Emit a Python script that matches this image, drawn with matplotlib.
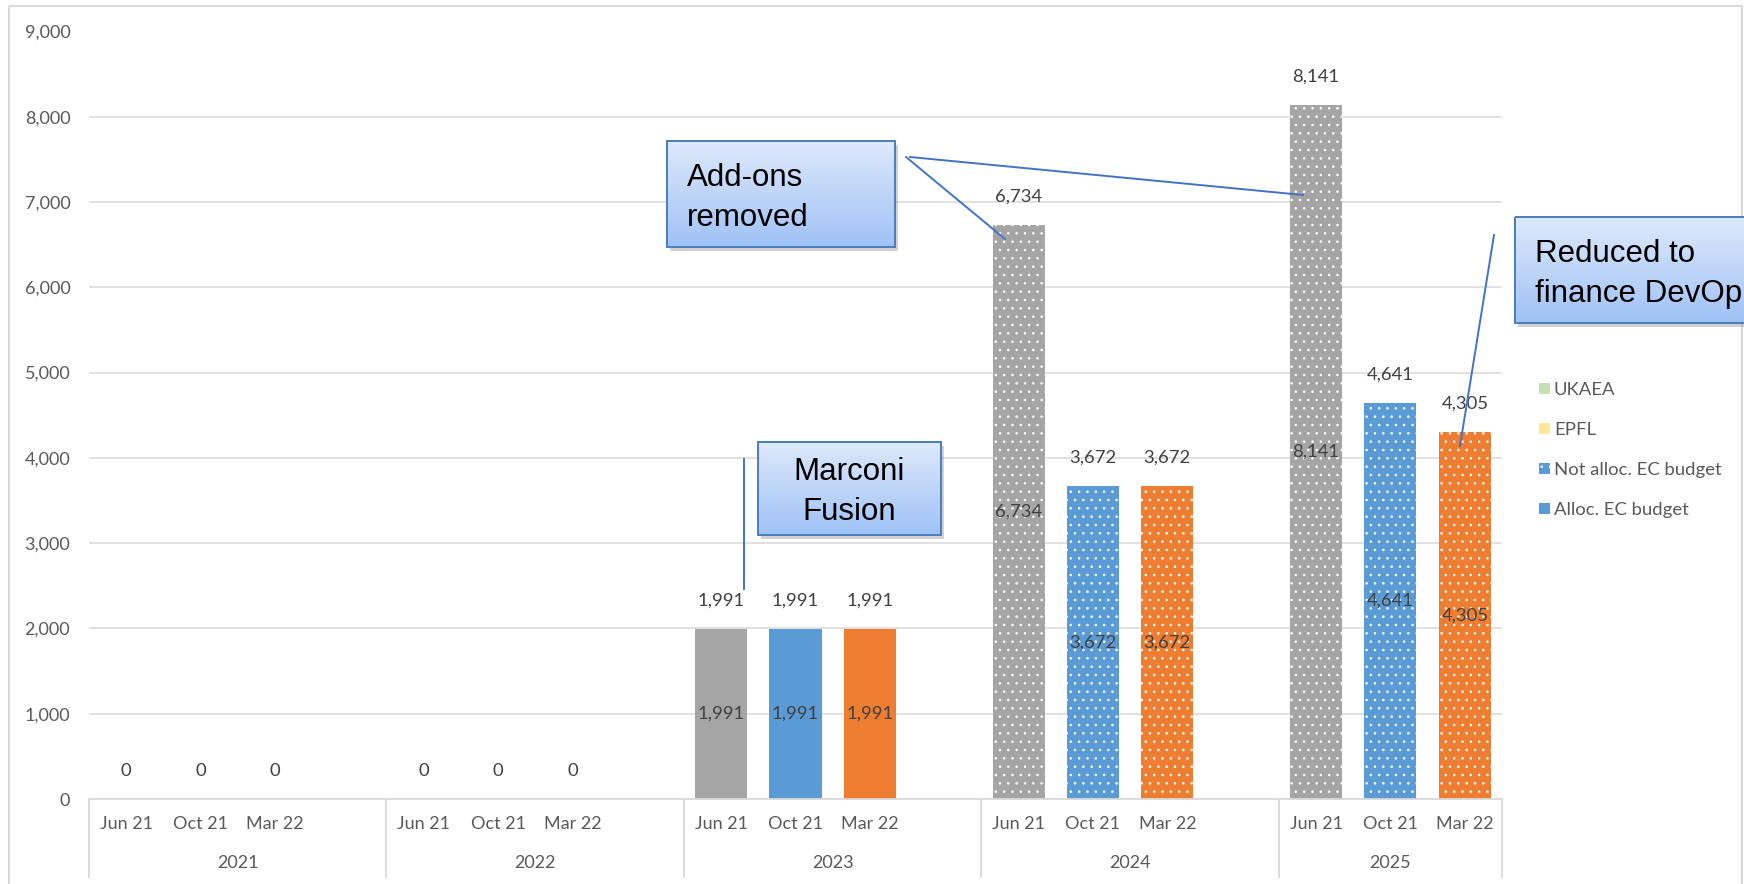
import numpy as np
import matplotlib.pyplot as plt
import matplotlib.transforms as mtransforms
from matplotlib.patches import Patch, Rectangle
from matplotlib.lines import Line2D

# data
years = ['2021', '2022', '2023', '2024', '2025']
months = ['Jun 21', 'Oct 21', 'Mar 22']
alloc_ec = [0, 0, 0, 0, 0, 0, 1991, 1991, 1991, 0, 0, 0, 0, 0, 0]
not_alloc_ec = [0, 0, 0, 0, 0, 0, 0, 0, 0, 6734, 3672, 3672, 8141, 4641, 4305]
epfl = [0] * 15
ukaea = [0] * 15

month_colors = ['#A5A5A5', '#5B9BD5', '#ED7D31']
txt_col = '#595959'
lbl_col = '#404040'
grid_col = '#D9D9D9'

plt.rcParams['font.family'] = ['Lato', 'DejaVu Sans']
plt.rcParams['hatch.color'] = 'white'
plt.rcParams['hatch.linewidth'] = 0.6

W, H = 1744, 884
fig = plt.figure(figsize=(W / 100, H / 100), dpi=100)
ax = fig.add_axes([89 / W, 1 - 799 / H, (1502 - 89) / W, (799 - 31.5) / H])

# 4 slots per year (3 months + blank), last year has no blank slot
pos = np.array([i * 4 + j for i in range(len(years)) for j in range(len(months))])
colors = [month_colors[k % 3] for k in range(len(pos))]
tick_labels = [months[k % 3] for k in range(len(pos))]

a = np.array(alloc_ec)
n = np.array(not_alloc_ec)
e = np.array(epfl)
u = np.array(ukaea)
bw = 0.7
ax.bar(pos, a, width=bw, color=colors, zorder=2)
ax.bar(pos, n, bottom=a, width=bw, color=colors, hatch='..', zorder=2)
ax.bar(pos, e, bottom=a + n, width=bw, color='#FFE699', zorder=2)
ax.bar(pos, u, bottom=a + n + e, width=bw, color='#C5E0B4', zorder=2)

fs = 13.3
# labels inside segments
for x, av, nv in zip(pos, a, n):
    if av > 0:
        ax.text(x, av / 2, f'{av:,}', ha='center', va='center', fontsize=fs, color=lbl_col, zorder=3)
    if nv > 0:
        ax.text(x, av + nv / 2, f'{nv:,}', ha='center', va='center', fontsize=fs, color=lbl_col, zorder=3)

# totals above bars
tot = a + n + e + u
for x, t in zip(pos, tot):
    ax.annotate(f'{t:,}', (x, t), xytext=(0, 20.5), textcoords='offset points',
                ha='center', va='center', fontsize=fs, color=lbl_col)

ax.set_xlim(-0.5, 18.5)
ax.set_ylim(0, 9000)
ax.set_yticks(np.arange(0, 9001, 1000))
ax.yaxis.set_major_formatter(plt.FuncFormatter(lambda v, p: f'{v:,.0f}'))
ax.set_xticks(pos, tick_labels)
ax.tick_params(axis='both', length=0, labelsize=13, labelcolor=txt_col)
ax.tick_params(axis='y', pad=13.5)
ax.tick_params(axis='x', pad=12)
ax.grid(axis='y', color=grid_col, lw=1.1, zorder=0)
ax.set_axisbelow(True)
for s in ['top', 'right', 'left']:
    ax.spines[s].set_visible(False)
ax.spines['bottom'].set_color(grid_col)
ax.spines['bottom'].set_linewidth(1.3)

# group separators and year labels
bounds = [-0.5] + [i * 4 - 0.5 for i in range(1, len(years))] + [pos[-1] + 0.5]
trans = mtransforms.blended_transform_factory(ax.transData, ax.transAxes)
ax_h = 799 - 31.5
for b in bounds:
    ax.add_line(Line2D([b, b], [0, -78 / ax_h], transform=trans, color=grid_col, lw=1.3, clip_on=False))
for i, yr in enumerate(years):
    ax.text((bounds[i] + bounds[i + 1]) / 2, -64 / ax_h, yr, transform=trans,
            ha='center', va='center', fontsize=13, color=txt_col)

# legend
handles = [Patch(facecolor='#C5E0B4', label='UKAEA'),
           Patch(facecolor='#FFE699', label='EPFL'),
           Patch(facecolor='#5B9BD5', hatch='..', label='Not alloc. EC budget'),
           Patch(facecolor='#5B9BD5', label='Alloc. EC budget')]
fig.legend(handles=handles, loc='upper left', bbox_to_anchor=(1539 / W, 1 - 382 / H),
           frameon=False, fontsize=13.3, labelcolor=txt_col, handlelength=0.6, handleheight=0.6,
           handletextpad=0.2, labelspacing=1.3, borderpad=0, borderaxespad=0)

# overlay in pixel coordinates for callouts and frame
ov = fig.add_axes([0, 0, 1, 1], zorder=5)
ov.axis('off')
ov.add_patch(Rectangle((9, 6), 1733, 900, fill=False, ec=grid_col, lw=1.5, zorder=1))


def callout(x0, y0, x1, y1):
    ov.add_patch(Rectangle((x0 + 3, y0 + 4), x1 - x0, y1 - y0, color='#808080', alpha=0.35, lw=0, zorder=3))
    g = np.linspace(0, 1, 64)[:, None, None]
    top = np.array([222, 233, 251]) / 255
    bot = np.array([160, 194, 246]) / 255
    img = top + (bot - top) * g
    ov.imshow(img, extent=(x0, x1, y1, y0), aspect='auto', zorder=4, interpolation='bilinear')
    ov.add_patch(Rectangle((x0, y0), x1 - x0, y1 - y0, fill=False, ec='#4A7EBB', lw=1.4, zorder=5))


line_col = '#4472C4'
ov.plot([906, 1005], [157, 239], color=line_col, lw=1.4, zorder=2)
ov.plot([910, 1303], [157, 195], color=line_col, lw=1.4, zorder=2)
ov.plot([744, 744], [459, 589], color=line_col, lw=1.4, zorder=2)
ov.plot([1494, 1460], [235, 446], color=line_col, lw=1.4, zorder=2)

cfs = 22.5
callout(667, 141, 895, 247)
ov.text(687, 198, 'Add-ons\nremoved', ha='left', va='center', fontsize=cfs,
        family='Liberation Sans', linespacing=1.42, zorder=6)
callout(758, 442, 941, 535)
ov.text(849.5, 492, 'Marconi\nFusion', ha='center', va='center', fontsize=cfs,
        family='Liberation Sans', linespacing=1.42, zorder=6)
callout(1515, 217, 1770, 323)
ov.text(1535, 274, 'Reduced to\nfinance DevOp', ha='left', va='center', fontsize=cfs,
        family='Liberation Sans', linespacing=1.42, zorder=6)

ov.set_xlim(0, W)
ov.set_ylim(H, 0)

fig.savefig('out.png', dpi=100)
